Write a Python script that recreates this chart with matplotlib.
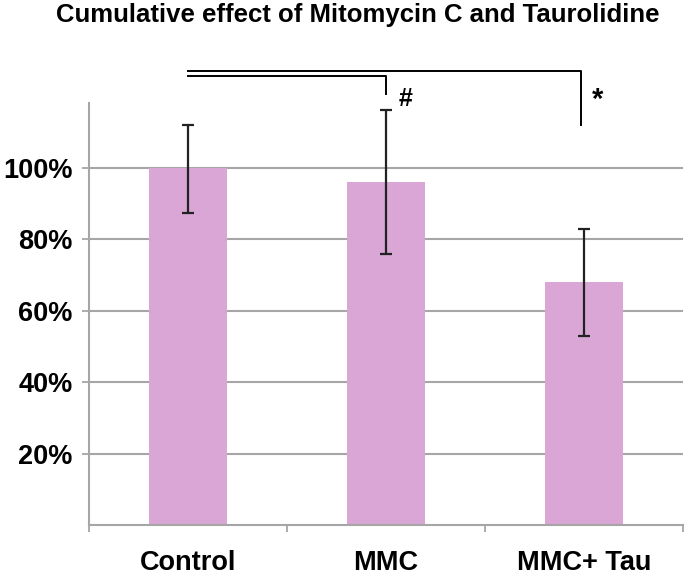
import matplotlib
matplotlib.use("Agg")
import matplotlib.pyplot as plt

plt.rcParams['font.family'] = ['Liberation Sans', 'DejaVu Sans']

# ======= DATOS ======= #
categories = ['Control', 'MMC', 'MMC+ Tau']
values = [100.0, 96.1, 68.0]
err_up = [11.9, 20.1, 14.8]
err_down = [12.8, 20.4, 15.0]
yticks = [20, 40, 60, 80, 100]

bar_color = '#D9A6D6'
grid_color = '#A6A6A6'

# ======= FIGURA ======= #
fig = plt.figure(figsize=(6.85, 5.77), dpi=100)
ax = fig.add_axes([0.130, 0.090, 0.867, 0.731])

x = list(range(len(categories)))
ax.bar(x, values, width=0.39, color=bar_color, zorder=2)
ax.errorbar(x, values, yerr=[err_down, err_up], fmt='none', ecolor='#222222',
            elinewidth=1.6, capsize=4.5, capthick=1.6, zorder=3)

ax.set_xlim(-0.5, 2.5)
ax.set_ylim(0, 118)

ax.set_yticks(yticks)
ax.set_yticklabels([f'{v}%' for v in yticks], fontsize=19.5, fontweight='bold')
ax.yaxis.grid(True, color=grid_color, linewidth=1.5, zorder=0)

ax.set_xticks([-0.5, 0.5, 1.5, 2.5])
ax.set_xticklabels([])
ax.set_xticks(x, minor=True)
ax.set_xticklabels(categories, minor=True, fontsize=19.5, fontweight='bold')
ax.tick_params(axis='x', which='minor', length=0, pad=18)
ax.tick_params(axis='both', which='major', color=grid_color, width=1.3, length=5)
ax.tick_params(axis='y', pad=7)

for s in ['top', 'right']:
    ax.spines[s].set_visible(False)
for s in ['left', 'bottom']:
    ax.spines[s].set_color(grid_color)
    ax.spines[s].set_linewidth(1.5)

# Corchetes de significancia
ax.plot([0, 1.985, 1.985], [127.1, 127.1, 112.0], color='black', lw=1.4,
        clip_on=False, zorder=4)
ax.plot([0, 1.0, 1.0], [125.6, 125.6, 120.7], color='black', lw=1.4,
        clip_on=False, zorder=4)
ax.text(1.1, 119.3, '#', ha='center', va='center', fontsize=18,
        fontweight='bold')
ax.text(2.07, 119.0, '*', ha='center', va='center', fontsize=21,
        fontweight='bold')

fig.suptitle('Cumulative effect of Mitomycin C and Taurolidine',
             x=0.522, y=0.995, va='top', fontsize=18.5, fontweight='bold')

fig.savefig('out.png', dpi=100)
